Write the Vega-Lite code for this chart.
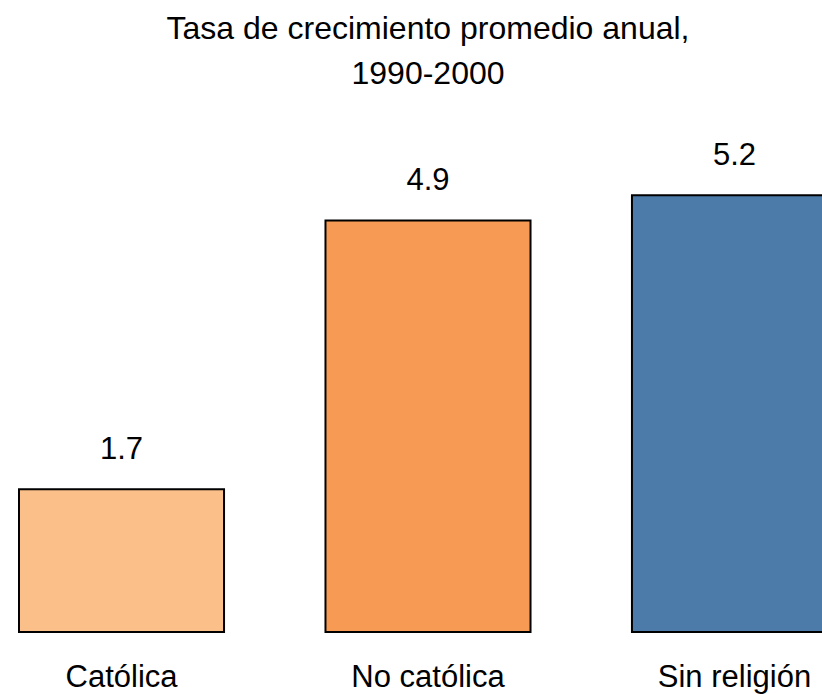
{
  "$schema": "https://vega.github.io/schema/vega-lite/v6.json",
  "autosize": "none",
  "width": 856,
  "height": 504,
  "padding": {"left": 0, "top": 128, "right": 0, "bottom": 62},
  "background": "white",
  "title": {
    "text": ["Tasa de crecimiento promedio anual,", "1990-2000"],
    "font": "Liberation Sans",
    "fontSize": 32,
    "fontWeight": "normal",
    "color": "black",
    "lineHeight": 45,
    "baseline": "bottom",
    "offset": 5,
    "anchor": "middle"
  },
  "data": {
    "values": [
      {"categoria": "Católica", "tasa": 1.7},
      {"categoria": "No católica", "tasa": 4.9},
      {"categoria": "Sin religión", "tasa": 5.2}
    ]
  },
  "config": {"view": {"stroke": null}},
  "encoding": {
    "x": {
      "field": "categoria",
      "type": "nominal",
      "sort": null,
      "scale": {"paddingInner": 0.331, "paddingOuter": 0.062},
      "axis": {
        "title": null,
        "labelAngle": 0,
        "domain": false,
        "ticks": false,
        "labelPadding": 30,
        "labelFont": "Liberation Sans",
        "labelFontSize": 31,
        "labelColor": "black",
        "grid": false
      }
    },
    "y": {
      "field": "tasa",
      "type": "quantitative",
      "scale": {"domain": [0, 6]},
      "axis": null
    }
  },
  "layer": [
    {
      "mark": {"type": "bar", "stroke": "black", "strokeWidth": 2},
      "encoding": {
        "color": {
          "field": "categoria",
          "type": "nominal",
          "scale": {
            "domain": ["Católica", "No católica", "Sin religión"],
            "range": ["#FBBF8A", "#F79A53", "#4C7AA9"]
          },
          "legend": null
        }
      }
    },
    {
      "mark": {"type": "text", "baseline": "alphabetic", "dy": -30, "font": "Liberation Sans", "fontSize": 31, "color": "black"},
      "encoding": {
        "text": {"field": "tasa", "type": "quantitative", "format": ".1f"}
      }
    }
  ]
}
